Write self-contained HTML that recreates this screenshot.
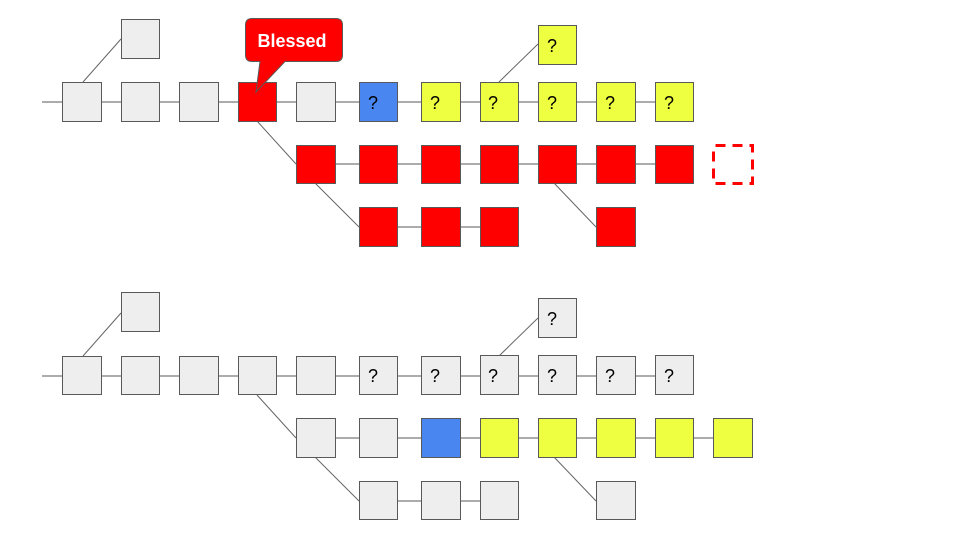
<!DOCTYPE html>
<html><head><meta charset="utf-8"><style>
html,body{margin:0;padding:0;background:#fff}
svg{display:block}
text{font-family:"Liberation Sans",sans-serif}
</style></head><body>
<svg width="960" height="540" viewBox="0 0 960 540" xmlns="http://www.w3.org/2000/svg">
<defs>
<g id="lines">
<line x1="42" y1="102" x2="694" y2="102" stroke="#595959" stroke-width="1"/>
<line x1="359" y1="227" x2="500" y2="227" stroke="#595959" stroke-width="1"/>
<line x1="83" y1="82" x2="121" y2="39" stroke="#666" stroke-width="1"/>
<line x1="257" y1="121" x2="296" y2="164" stroke="#666" stroke-width="1"/>
<line x1="315" y1="183" x2="359" y2="227" stroke="#666" stroke-width="1"/>
<line x1="499" y1="82" x2="538" y2="44" stroke="#666" stroke-width="1"/>
<line x1="554" y1="183" x2="596" y2="227" stroke="#666" stroke-width="1"/>
</g>
</defs>
<g fill="none">
<use href="#lines"/>
<use href="#lines" transform="translate(0,274)"/>
<line x1="296" y1="164" x2="694" y2="164" stroke="#595959" stroke-width="1"/>
<line x1="296" y1="438" x2="713" y2="438" stroke="#595959" stroke-width="1"/>
</g>
<g stroke="#595959" stroke-width="1" font-size="18" text-anchor="middle">
<!-- TOP -->
<rect x="121.5" y="19.5" width="38" height="39" fill="#eeeeee"/>
<rect x="62.5" y="82.5" width="39" height="39" fill="#eeeeee"/>
<rect x="121.5" y="82.5" width="38" height="39" fill="#eeeeee"/>
<rect x="179.5" y="82.5" width="39" height="39" fill="#eeeeee"/>
<rect x="238.5" y="82.5" width="38" height="39" fill="#ff0000"/>
<rect x="296.5" y="82.5" width="39" height="39" fill="#eeeeee"/>
<rect x="359.5" y="82.5" width="38" height="39" fill="#4a86f0"/>
<rect x="421.5" y="82.5" width="39" height="39" fill="#eeff41"/>
<rect x="480.5" y="82.5" width="38" height="39" fill="#eeff41"/>
<rect x="538.5" y="82.5" width="38" height="39" fill="#eeff41"/>
<rect x="596.5" y="82.5" width="39" height="39" fill="#eeff41"/>
<rect x="655.5" y="82.5" width="38" height="39" fill="#eeff41"/>
<rect x="538.5" y="25.5" width="38" height="39" fill="#eeff41"/>
<rect x="296.5" y="145.5" width="39" height="38" fill="#ff0000"/>
<rect x="359.5" y="145.5" width="38" height="38" fill="#ff0000"/>
<rect x="421.5" y="145.5" width="39" height="38" fill="#ff0000"/>
<rect x="480.5" y="145.5" width="38" height="38" fill="#ff0000"/>
<rect x="538.5" y="145.5" width="38" height="38" fill="#ff0000"/>
<rect x="596.5" y="145.5" width="39" height="38" fill="#ff0000"/>
<rect x="655.5" y="145.5" width="38" height="38" fill="#ff0000"/>
<rect x="359.5" y="207.5" width="38" height="39" fill="#ff0000"/>
<rect x="421.5" y="207.5" width="39" height="39" fill="#ff0000"/>
<rect x="480.5" y="207.5" width="38" height="39" fill="#ff0000"/>
<rect x="596.5" y="207.5" width="39" height="39" fill="#ff0000"/>
<rect x="713.5" y="145.5" width="39" height="38" fill="none" stroke="#ff0000" stroke-width="3" stroke-dasharray="10,7" stroke-dashoffset="-2"/>
<!-- BOTTOM -->
<rect x="121.5" y="292.5" width="38" height="39" fill="#eeeeee"/>
<rect x="62.5" y="356.5" width="39" height="38" fill="#eeeeee"/>
<rect x="121.5" y="356.5" width="38" height="38" fill="#eeeeee"/>
<rect x="179.5" y="356.5" width="39" height="38" fill="#eeeeee"/>
<rect x="238.5" y="356.5" width="38" height="38" fill="#eeeeee"/>
<rect x="296.5" y="356.5" width="39" height="38" fill="#eeeeee"/>
<rect x="359.5" y="356.5" width="38" height="38" fill="#eeeeee"/>
<rect x="421.5" y="356.5" width="39" height="38" fill="#eeeeee"/>
<rect x="480.5" y="355.5" width="38" height="39" fill="#eeeeee"/>
<rect x="538.5" y="355.5" width="38" height="39" fill="#eeeeee"/>
<rect x="596.5" y="356.5" width="39" height="38" fill="#eeeeee"/>
<rect x="655.5" y="355.5" width="38" height="39" fill="#eeeeee"/>
<rect x="538.5" y="298.5" width="38" height="39" fill="#eeeeee"/>
<rect x="296.5" y="418.5" width="39" height="39" fill="#eeeeee"/>
<rect x="359.5" y="418.5" width="38" height="39" fill="#eeeeee"/>
<rect x="421.5" y="418.5" width="39" height="39" fill="#4a86f0"/>
<rect x="480.5" y="418.5" width="38" height="39" fill="#eeff41"/>
<rect x="538.5" y="418.5" width="38" height="39" fill="#eeff41"/>
<rect x="596.5" y="418.5" width="39" height="39" fill="#eeff41"/>
<rect x="655.5" y="418.5" width="38" height="39" fill="#eeff41"/>
<rect x="713.5" y="418.5" width="39" height="39" fill="#eeff41"/>
<rect x="359.5" y="481.5" width="38" height="38" fill="#eeeeee"/>
<rect x="421.5" y="481.5" width="39" height="38" fill="#eeeeee"/>
<rect x="480.5" y="481.5" width="38" height="38" fill="#eeeeee"/>
<rect x="596.5" y="481.5" width="39" height="38" fill="#eeeeee"/>
</g>
<g font-size="18" fill="#000" stroke="none">
<text x="368" y="109">?</text>
<text x="430" y="109">?</text>
<text x="488" y="109">?</text>
<text x="547" y="109">?</text>
<text x="605" y="109">?</text>
<text x="664" y="109">?</text>
<text x="547" y="52">?</text>
<text x="368" y="382">?</text>
<text x="430" y="382">?</text>
<text x="488" y="382">?</text>
<text x="547" y="382">?</text>
<text x="605" y="382">?</text>
<text x="664" y="382">?</text>
<text x="547" y="325">?</text>
</g>
<!-- callout -->
<path d="M252,18.5 H336 Q342.5,18.5 342.5,25 V55 Q342.5,61.5 336,61.5 H285 L256,92 L260,61.5 H252 Q245.5,61.5 245.5,55 V25 Q245.5,18.5 252,18.5 Z" fill="#ff0000" stroke="#595959" stroke-width="1"/>
<text x="292" y="47" font-size="18" font-weight="bold" fill="#fff" text-anchor="middle">Blessed</text>
</svg>
</body></html>
